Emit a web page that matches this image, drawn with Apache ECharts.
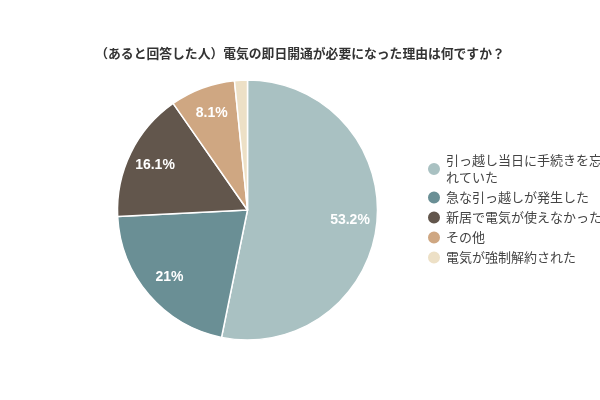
<!DOCTYPE html>
<html>
<head>
<meta charset="UTF-8">
<title>Echarts</title>
<script src="https://cdn.jsdelivr.net/npm/echarts@6/dist/echarts.min.js"></script>
</head>
<body style="margin:0;">
	<div id="main" style="width:600px;height:400px;"></div>
	<script type="text/javascript">
		// 回答項目と割合（%）
		var reasons = ['引っ越し当日に手続きを忘れていた', '急な引っ越しが発生した', '新居で電気が使えなかった', 'その他', '電気が強制解約された'];
		var shares = [53.2, 21, 16.1, 8.1, 1.6];
		var colors = ['#a9c1c2', '#6a8f95', '#62564c', '#cfa782', '#ede0c6'];

		var pieData = reasons.map(function (name, i) {
			return { name: name, value: shares[i] };
		});

		var myChart = echarts.init(document.getElementById('main'));
		var option = {
			color: colors,
			title: {
				text: '（あると回答した人）電気の即日開通が必要になった理由は何ですか？',
				left: 'center',
				top: 42,
				textStyle: {
					fontFamily: 'Noto Sans CJK JP',
					fontSize: 12.8,
					fontWeight: 'bold',
					color: '#333'
				}
			},
			legend: {
				orient: 'vertical',
				left: 426,
				top: 152,
				padding: 0,
				icon: 'circle',
				itemWidth: 14,
				itemHeight: 14,
				itemGap: 3,
				data: reasons,
				textStyle: {
					fontFamily: 'Noto Sans CJK JP',
					fontSize: 13,
					color: '#444',
					width: 160,
					overflow: 'break',
					lineHeight: 17
				}
			},
			series: [
				{
					type: 'pie',
					center: [247.5, 210],
					radius: 130,
					startAngle: 90,
					data: pieData,
					label: { show: false },
					labelLine: { show: false },
					itemStyle: { borderColor: '#fff', borderWidth: 1.5 },
					emphasis: { disabled: true }
				},
				{
					// 透明リング：ラベル位置を外寄りにするためだけに使う
					type: 'pie',
					center: [247.5, 210],
					radius: [70, 130],
					startAngle: 90,
					silent: true,
					data: pieData,
					minShowLabelAngle: 10,
					itemStyle: { color: 'transparent', borderWidth: 0 },
					label: {
						show: true,
						position: 'inside',
						formatter: '{c}%',
						color: '#fff',
						fontFamily: 'Liberation Sans',
						fontSize: 14,
						fontWeight: 'bold'
					},
					labelLine: { show: false },
					emphasis: { disabled: true }
				}
			]
		};
		myChart.setOption(option);
	</script>
</body>
</html>
